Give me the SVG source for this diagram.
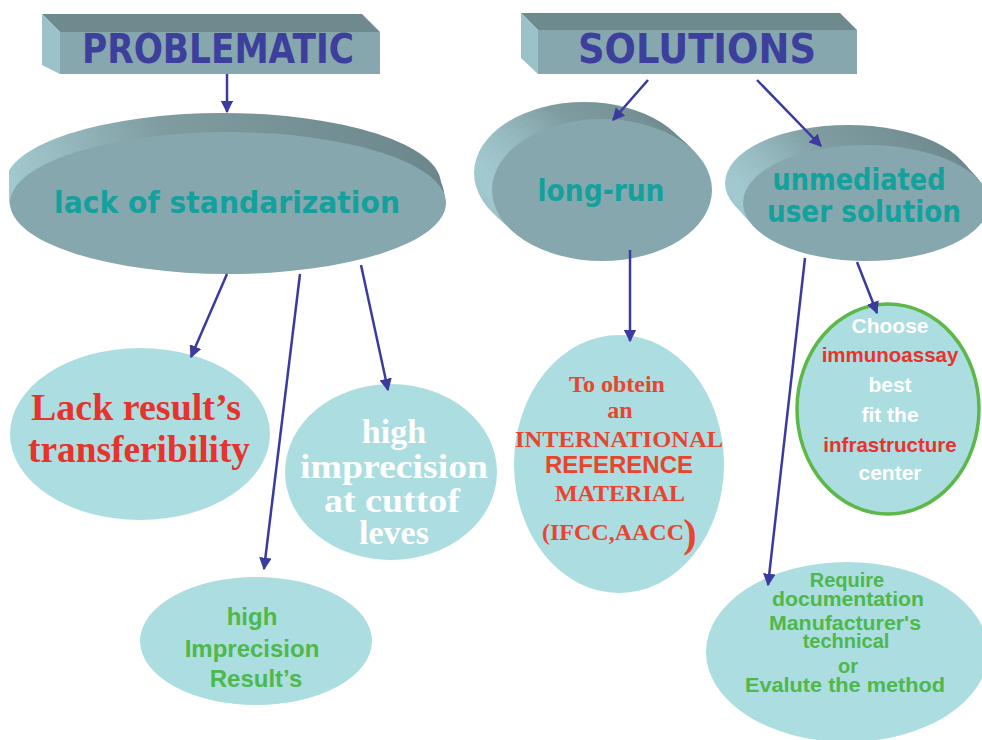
<svg xmlns="http://www.w3.org/2000/svg" width="982" height="740" viewBox="0 0 982 740">
<style>
.title{font-family:"Comic Sans MS","DejaVu Sans",sans-serif;font-weight:bold;font-size:40px;fill:#3d3f9d;text-anchor:middle}
.disk{font-family:"Comic Sans MS","DejaVu Sans",sans-serif;font-weight:bold;font-size:31px;fill:#13a19e;text-anchor:middle}
.light{fill:#acdde0}
.serif{font-family:"Liberation Serif","Times New Roman",serif;font-weight:bold;text-anchor:middle}
.sans{font-family:"Liberation Sans",Arial,sans-serif;font-weight:bold;text-anchor:middle}
.front{fill:#86a7ad}
.conn line{stroke:#3b3b9e;stroke-width:2.5;marker-end:url(#ah)}
</style>
<defs>
<marker id="ah" viewBox="0 0 10 10" refX="9" refY="5" markerWidth="5" markerHeight="5" orient="auto" markerUnits="strokeWidth">
<path d="M0,0 L10,5 L0,10 z" fill="#3b3b9e"/>
</marker>
<linearGradient id="side" x1="0" y1="0" x2="1" y2="0">
<stop offset="0" stop-color="#a2cad0"/>
<stop offset="0.35" stop-color="#7f9ca1"/>
<stop offset="1" stop-color="#6c878c"/>
</linearGradient>
<clipPath id="clipL"><rect x="9" y="0" width="973" height="740"/></clipPath>
</defs>

<g id="problematic">
<polygon points="42,14 362,14 380,32 60,32" fill="#6e8a8f"/>
<polygon points="42,14 60,32 60,74 42,65" fill="#9ac2c8"/>
<rect x="60" y="32" width="320" height="42" fill="#86a7ad"/>
<text class="title" x="218" y="63" textLength="272" lengthAdjust="spacingAndGlyphs">PROBLEMATIC</text>
</g>

<g id="solutions">
<polygon points="521,13 840,13 857,30 538,30" fill="#6e8a8f"/>
<polygon points="521,13 538,30 538,74 521,58" fill="#9ac2c8"/>
<rect x="538" y="30" width="319" height="44" fill="#86a7ad"/>
<text class="title" x="697" y="63" textLength="238" lengthAdjust="spacingAndGlyphs">SOLUTIONS</text>
</g>

<g id="lack-standarization">
<g clip-path="url(#clipL)" fill="url(#side)">
<ellipse cx="223" cy="184" rx="218" ry="71"/>
<ellipse cx="224" cy="189" rx="218" ry="71"/>
<ellipse cx="226" cy="194" rx="218" ry="71"/>
<ellipse cx="227" cy="199" rx="218" ry="71"/>
</g>
<ellipse class="front" cx="228" cy="203" rx="218" ry="71"/>
<text class="disk" x="227" y="213" textLength="346" lengthAdjust="spacingAndGlyphs">lack of standarization</text>
</g>

<g id="long-run">
<g fill="url(#side)">
<ellipse cx="584" cy="173" rx="110" ry="71"/>
<ellipse cx="589" cy="178" rx="110" ry="71"/>
<ellipse cx="594" cy="182" rx="110" ry="71"/>
<ellipse cx="598" cy="186" rx="110" ry="71"/>
</g>
<ellipse class="front" cx="602" cy="190" rx="110" ry="71"/>
<text class="disk" x="601" y="201" textLength="127" lengthAdjust="spacingAndGlyphs">long-run</text>
</g>

<g id="unmediated">
<g fill="url(#side)">
<ellipse cx="848" cy="183" rx="123" ry="58"/>
<ellipse cx="853" cy="188" rx="123" ry="58"/>
<ellipse cx="857" cy="193" rx="123" ry="58"/>
<ellipse cx="862" cy="198" rx="123" ry="58"/>
</g>
<ellipse class="front" cx="866" cy="203" rx="123" ry="58"/>
<text class="disk" x="859" y="190" textLength="173" lengthAdjust="spacingAndGlyphs">unmediated</text>
<text class="disk" x="864" y="222" textLength="194" lengthAdjust="spacingAndGlyphs">user solution</text>
</g>

<g id="lack-result">
<ellipse class="light" cx="140" cy="434" rx="130" ry="86"/>
<text class="serif" x="136" y="420" font-size="37" fill="#e8332c" textLength="210" lengthAdjust="spacingAndGlyphs">Lack result’s</text>
<text class="serif" x="139" y="462" font-size="37" fill="#e8332c" textLength="222" lengthAdjust="spacingAndGlyphs">transferibility</text>
</g>

<g id="high-imprecision-cutoff">
<ellipse class="light" cx="391" cy="472" rx="106" ry="88"/>
<text class="serif" x="394" y="443" font-size="34" fill="#ffffff">high</text>
<text class="serif" x="394" y="478" font-size="34" fill="#ffffff" textLength="188" lengthAdjust="spacingAndGlyphs">imprecision</text>
<text class="serif" x="392" y="512" font-size="34" fill="#ffffff" textLength="136" lengthAdjust="spacingAndGlyphs">at cuttof</text>
<text class="serif" x="394" y="544" font-size="34" fill="#ffffff">leves</text>
</g>

<g id="high-imprecision-results">
<ellipse class="light" cx="256" cy="641" rx="116" ry="64"/>
<text class="sans" x="252" y="625" font-size="24" fill="#4db84b">high</text>
<text class="sans" x="252" y="657" font-size="24" fill="#4db84b">Imprecision</text>
<text class="sans" x="256" y="687" font-size="24" fill="#4db84b">Result’s</text>
</g>

<g id="reference-material">
<ellipse class="light" cx="619" cy="464" rx="105" ry="129"/>
<text class="serif" x="617" y="392" font-size="24" fill="#e8452f">To obtein</text>
<text class="serif" x="620" y="418" font-size="24" fill="#e8452f">an</text>
<text class="serif" x="619" y="447" font-size="24" fill="#e8452f" textLength="208" lengthAdjust="spacingAndGlyphs">INTERNATIONAL</text>
<text class="sans" x="619" y="473" font-size="24" fill="#e8452f">REFERENCE</text>
<text class="serif" x="620" y="501" font-size="24" fill="#e8452f">MATERIAL</text>
<text class="serif" x="613" y="540" font-size="24" fill="#e8452f">(IFCC,AACC</text>
<text class="serif" x="690" y="547" font-size="40" font-weight="normal" fill="#e8452f">)</text>
</g>

<g id="choose-immunoassay">
<ellipse cx="888" cy="409" rx="91" ry="105" fill="#acdde0" stroke="#5cb848" stroke-width="3.5"/>
<text class="sans" x="890" y="333" font-size="21" fill="#ffffff">Choose</text>
<text class="sans" x="890" y="362" font-size="20.5" fill="#e8332c">immunoassay</text>
<text class="sans" x="890" y="392" font-size="21" fill="#ffffff">best</text>
<text class="sans" x="890" y="422" font-size="21" fill="#ffffff">fit the</text>
<text class="sans" x="890" y="452" font-size="20.5" fill="#e8332c">infrastructure</text>
<text class="sans" x="890" y="480" font-size="21" fill="#ffffff">center</text>
</g>

<g id="require-documentation">
<ellipse class="light" cx="847" cy="652" rx="141" ry="90"/>
<text class="sans" x="847" y="587" font-size="20" fill="#4db84b">Require</text>
<text class="sans" x="848" y="606" font-size="20" fill="#4db84b" textLength="152" lengthAdjust="spacingAndGlyphs">documentation</text>
<text class="sans" x="845" y="630" font-size="20" fill="#4db84b" textLength="152" lengthAdjust="spacingAndGlyphs">Manufacturer's</text>
<text class="sans" x="846" y="648" font-size="20" fill="#4db84b">technical</text>
<text class="sans" x="848" y="673" font-size="20" fill="#4db84b">or</text>
<text class="sans" x="845" y="692" font-size="20" fill="#4db84b" textLength="200" lengthAdjust="spacingAndGlyphs">Evalute the method</text>
</g>

<g id="connectors" class="conn">
<line x1="227" y1="74" x2="227" y2="112"/>
<line x1="648" y1="80" x2="613" y2="120"/>
<line x1="757" y1="80" x2="821" y2="146"/>
<line x1="227" y1="274" x2="191" y2="357"/>
<line x1="300" y1="274" x2="264" y2="569"/>
<line x1="361" y1="265" x2="388" y2="390"/>
<line x1="630" y1="250" x2="630" y2="341"/>
<line x1="805" y1="258" x2="768" y2="585"/>
<line x1="857" y1="262" x2="877" y2="313"/>
</g>
</svg>
